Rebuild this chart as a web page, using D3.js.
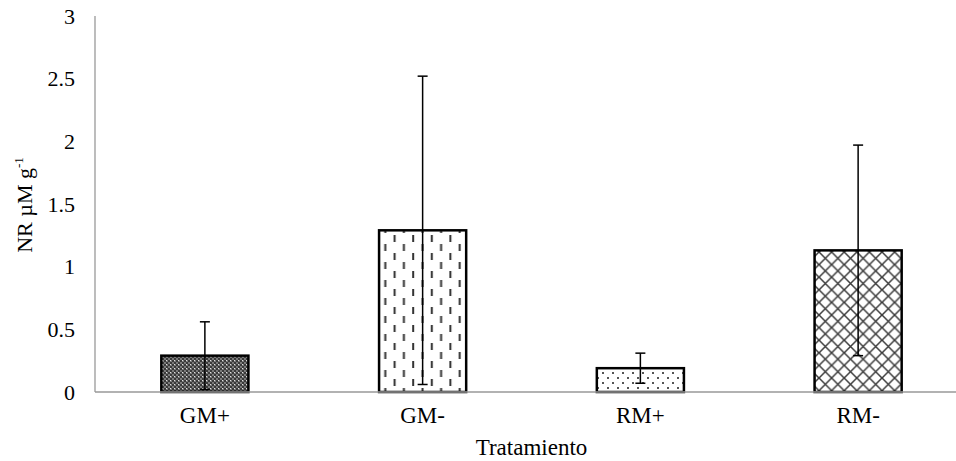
<!DOCTYPE html>
<html><head><meta charset="utf-8">
<script src="https://cdn.jsdelivr.net/npm/d3@7"></script>
<style>body{margin:0;background:#fff}svg{display:block}text{font-family:"Liberation Serif","Times New Roman",serif;fill:#000}</style>
</head><body>
<script>
const categories = ["GM+", "GM-", "RM+", "RM-"];
const values = [0.29, 1.29, 0.19, 1.13];
const errors = [0.27, 1.23, 0.12, 0.84];
const yTicks = [0, 0.5, 1, 1.5, 2, 2.5, 3];
const patternIds = ["pChecker", "pDash", "pDots", "pDiamond"];

const W = 956, H = 461;
const svg = d3.select("body").append("svg").attr("width", W).attr("height", H);
const defs = svg.append("defs");

// GM+ dense dark checker
let p = defs.append("pattern").attr("id","pChecker").attr("patternUnits","userSpaceOnUse").attr("width",4).attr("height",4);
p.append("rect").attr("width",4).attr("height",4).attr("fill","#7a7a7a");
p.append("rect").attr("width",2).attr("height",2).attr("fill","#3a3a3a");
p.append("rect").attr("x",2).attr("y",2).attr("width",2).attr("height",2).attr("fill","#3a3a3a");
p.append("rect").attr("x",2).attr("y",0).attr("width",1).attr("height",1).attr("fill","#e0e0e0");
// GM- vertical dashes
p = defs.append("pattern").attr("id","pDash").attr("patternUnits","userSpaceOnUse").attr("width",18.6).attr("height",18);
p.append("rect").attr("width",18.6).attr("height",18).attr("fill","#fff");
p.append("rect").attr("x",3).attr("y",1).attr("width",2).attr("height",7).attr("fill","#333");
p.append("rect").attr("x",12.3).attr("y",10).attr("width",2).attr("height",7).attr("fill","#333");
// RM+ dots
p = defs.append("pattern").attr("id","pDots").attr("patternUnits","userSpaceOnUse").attr("width",10).attr("height",10);
p.append("rect").attr("width",10).attr("height",10).attr("fill","#fff");
p.append("rect").attr("x",2).attr("y",2).attr("width",2).attr("height",2).attr("fill","#555");
p.append("rect").attr("x",7).attr("y",7).attr("width",2).attr("height",2).attr("fill","#555");
// RM- diamond lattice
p = defs.append("pattern").attr("id","pDiamond").attr("patternUnits","userSpaceOnUse").attr("width",12.6).attr("height",12.6);
p.append("rect").attr("width",12.6).attr("height",12.6).attr("fill","#fff");
p.append("path").attr("d","M-6.3,-6.3L18.9,18.9M18.9,-6.3L-6.3,18.9").attr("stroke","#3a3a3a").attr("stroke-width",1.5).attr("fill","none");

const x = d3.scaleBand().domain(categories).range([96, 967]).paddingInner(0.6).paddingOuter(0.3);
const y = d3.scaleLinear().domain([0, 3]).range([392, 16]);

// axes
svg.append("line").attr("x1",95).attr("x2",95).attr("y1",y(3)).attr("y2",y(0)).attr("stroke","#999").attr("stroke-width",1.3);

svg.append("g").selectAll("rect").data(values).join("rect")
  .attr("x",(d,i)=>x(categories[i])).attr("width",x.bandwidth())
  .attr("y",d=>y(d)).attr("height",d=>y(0)-y(d))
  .attr("fill",(d,i)=>`url(#${patternIds[i]})`)
  .attr("stroke","#000").attr("stroke-width",2.5);

svg.append("line").attr("x1",95).attr("x2",W).attr("y1",y(0)).attr("y2",y(0)).attr("stroke","#999").attr("stroke-width",1.3);

const eg = svg.append("g").attr("stroke","#000").attr("stroke-width",1.5);
values.forEach((v,i)=>{
  const cx = x(categories[i]) + x.bandwidth()/2;
  const hi = y(v+errors[i]), lo = y(v-errors[i]);
  eg.append("line").attr("x1",cx).attr("x2",cx).attr("y1",hi).attr("y2",lo);
  eg.append("line").attr("x1",cx-5).attr("x2",cx+5).attr("y1",hi).attr("y2",hi);
  eg.append("line").attr("x1",cx-5).attr("x2",cx+5).attr("y1",lo).attr("y2",lo);
});

svg.append("g").selectAll("text").data(yTicks).join("text")
  .attr("x",75).attr("y",d=>y(d)).attr("dy","0.35em").attr("text-anchor","end")
  .attr("font-size",22).text(d=>d);

svg.append("g").selectAll("text").data(categories).join("text")
  .attr("x",d=>x(d)+x.bandwidth()/2).attr("y",423).attr("text-anchor","middle")
  .attr("font-size",23).text(d=>d);

svg.append("text").attr("x",(x("GM+")+x("RM-")+x.bandwidth())/2).attr("y",455).attr("text-anchor","middle")
  .attr("font-size",23).text("Tratamiento");

const yt = svg.append("text").attr("transform","translate(32,205) rotate(-90)").attr("text-anchor","middle").attr("font-size",22);
yt.append("tspan").text("NR µM g");
yt.append("tspan").attr("font-size",13).attr("dy",-9).text("-1");
</script>
</body></html>
